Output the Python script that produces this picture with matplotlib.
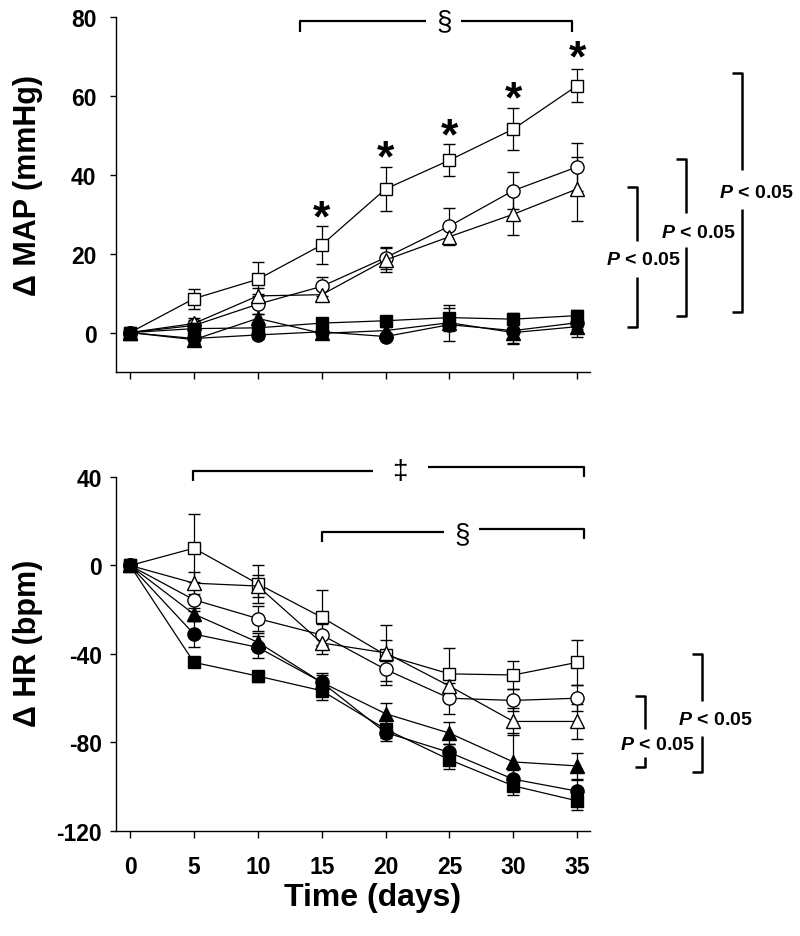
import matplotlib
matplotlib.use("Agg")
import matplotlib.pyplot as plt

plt.rcParams['font.family'] = ['Liberation Sans', 'DejaVu Sans']
plt.rcParams['font.weight'] = 'bold'
plt.rcParams['axes.unicode_minus'] = False
plt.rcParams['mathtext.fontset'] = 'custom'
plt.rcParams['mathtext.it'] = 'Liberation Sans:italic:bold'
plt.rcParams['mathtext.rm'] = 'Liberation Sans:bold'

days = [0, 5, 10, 15, 20, 25, 30, 35]

# change in mean arterial pressure (mmHg)
map_open_sq = [0, 8.6, 13.5, 22.2, 36.4, 43.7, 51.6, 62.6]
map_open_sq_err = [1.0, 2.5, 4.3, 4.7, 5.6, 4.0, 5.4, 4.2]
map_open_ci = [0, 1.8, 7.2, 11.7, 19.0, 27.0, 36.0, 42.0]
map_open_ci_err = [1.0, 1.5, 2.5, 2.4, 2.8, 4.5, 4.8, 6.0]
map_open_tr = [0, 2.3, 9.3, 9.6, 18.4, 24.3, 30.0, 36.4]
map_open_tr_err = [1.0, 1.5, 2.0, 1.6, 3.0, 2.0, 5.2, 8.0]
map_fill_sq = [0, 1.0, 1.2, 2.4, 3.0, 3.8, 3.4, 4.3]
map_fill_sq_err = [0.8, 1.5, 1.5, 1.2, 1.2, 3.3, 1.5, 1.5]
map_fill_ci = [0, -1.5, -0.6, 0.2, -1.0, 2.0, 0.5, 2.5]
map_fill_ci_err = [0.8, 1.2, 1.0, 1.0, 1.0, 4.2, 3.2, 1.5]
map_fill_tr = [0, -1.8, 3.6, -0.2, 0.5, 2.5, 0.0, 1.5]
map_fill_tr_err = [0.8, 1.5, 1.2, 1.0, 1.0, 1.5, 2.8, 2.5]

# change in heart rate (bpm)
hr_open_sq = [0, 7.8, -8.3, -23.4, -40.5, -49.0, -49.5, -43.8]
hr_open_sq_err = [1.0, 15.3, 8.7, 12.4, 13.5, 11.8, 6.2, 10.3]
hr_open_ci = [0, -15.5, -24.0, -31.4, -47.0, -60.0, -61.0, -60.0]
hr_open_ci_err = [1.0, 5.0, 5.5, 5.0, 5.0, 7.0, 5.0, 6.0]
hr_open_tr = [0, -8.0, -9.3, -35.0, -39.5, -54.5, -70.5, -70.5]
hr_open_tr_err = [1.0, 5.0, 5.0, 5.0, 6.0, 5.0, 6.0, 8.0]
hr_fill_sq = [0, -43.8, -50.0, -56.6, -74.0, -87.8, -99.6, -106.4]
hr_fill_sq_err = [1.0, 2.0, 2.5, 4.0, 4.0, 4.0, 4.0, 4.0]
hr_fill_ci = [0, -31.0, -37.0, -52.8, -75.5, -84.5, -96.6, -102.0]
hr_fill_ci_err = [1.0, 6.0, 5.0, 4.0, 4.0, 4.0, 4.0, 5.0]
hr_fill_tr = [0, -22.0, -34.7, -52.8, -67.0, -75.8, -88.8, -90.6]
hr_fill_tr_err = [1.0, 3.0, 4.0, 3.5, 5.0, 5.0, 13.0, 6.0]

star_days = [15, 20, 25, 30, 35]
star_y = [31.4, 46.6, 52.1, 61.4, 71.8]

p_text = r"$P$ < 0.05"


def draw_series(ax, y, err, marker, filled, ms):
    """
    One group: line, markers and error bars
    """
    face = "black" if filled else "white"
    ax.errorbar(days, y, yerr=err, fmt="-", marker=marker, color="black",
                mfc=face, mec="black", mew=1.0, ms=ms, lw=0.9,
                elinewidth=0.9, capsize=4.5, capthick=0.9, zorder=3 if filled else 2)


def bracket(ax, x, x_arm, y_top, y_bot, gap_top, gap_bot, tx, ty):
    """
    Right side significance bracket with a P value in a gap
    """
    kw = dict(color="black", lw=1.8, clip_on=False, solid_capstyle="butt")
    ax.plot([x_arm, x, x], [y_top, y_top, gap_top], **kw)
    ax.plot([x, x, x_arm], [gap_bot, y_bot, y_bot], **kw)
    ax.text(tx, ty, p_text, fontsize=14, fontweight="bold", ha="center", va="center")


def top_bracket(ax, x0, x1, y0, y1, drop, g0, g1, sym, sy):
    """
    Horizontal bracket above the data with a symbol in a gap
    """
    kw = dict(color="black", lw=1.6, clip_on=False, solid_capstyle="butt")
    ax.plot([x0, x0, g0], [y0 - drop, y0, y0], **kw)
    ax.plot([g1, x1, x1], [y1, y1, y1 - drop], **kw)
    ax.text((g0 + g1) / 2, sy, sym, fontsize=20, fontweight="normal",
            ha="center", va="center", clip_on=False)


def style_axes(ax, ypad):
    for side in ["top", "right"]:
        ax.spines[side].set_visible(False)
    ax.spines["left"].set_linewidth(1.0)
    ax.spines["bottom"].set_linewidth(1.0)
    ax.tick_params(direction="out", length=4, width=1.0, labelsize=16.5)
    ax.tick_params(axis="y", pad=ypad)
    ax.tick_params(axis="x", pad=12, length=5)
    ax.set_xlim(-1.1, 36)
    ax.set_xticks(days)


fig = plt.figure(figsize=(8, 9.37), dpi=100)
ax1 = fig.add_axes([0.145, 0.6019, 0.5925, 0.3789])
ax2 = fig.add_axes([0.145, 0.1121, 0.5925, 0.3778])

# top panel
draw_series(ax1, map_open_sq, map_open_sq_err, "s", False, 8.5)
draw_series(ax1, map_open_ci, map_open_ci_err, "o", False, 9.5)
draw_series(ax1, map_open_tr, map_open_tr_err, "^", False, 9.5)
draw_series(ax1, map_fill_sq, map_fill_sq_err, "s", True, 8.5)
draw_series(ax1, map_fill_ci, map_fill_ci_err, "o", True, 9.5)
draw_series(ax1, map_fill_tr, map_fill_tr_err, "^", True, 9.5)
style_axes(ax1, 10)
ax1.set_ylim(-10, 80)
ax1.set_yticks([0, 20, 40, 60, 80])
ax1.set_xticklabels([])
ax1.set_ylabel("\u0394 MAP (mmHg)", fontsize=22, fontweight="bold")
ax1.yaxis.set_label_coords(-0.154, 0.527)

for d, s in zip(star_days, star_y):
    ax1.annotate("*", (d, s), xytext=(0, -7), textcoords="offset points",
                 fontsize=32, fontweight="bold", ha="center", va="center")

top_bracket(ax1, 13.3, 34.6, 79.0, 79.0, 2.9, 23.2, 25.9, "\u00a7", 79.0)
bracket(ax1, 39.7, 38.9, 37.0, 1.3, 23.1, 14.2, 40.2, 18.5)
bracket(ax1, 43.5, 42.7, 44.1, 4.1, 30.4, 21.6, 44.5, 25.4)
bracket(ax1, 47.9, 47.1, 65.9, 5.3, 41.3, 31.2, 49.0, 35.5)

# bottom panel
draw_series(ax2, hr_open_sq, hr_open_sq_err, "s", False, 8.5)
draw_series(ax2, hr_open_ci, hr_open_ci_err, "o", False, 9.5)
draw_series(ax2, hr_open_tr, hr_open_tr_err, "^", False, 9.5)
draw_series(ax2, hr_fill_sq, hr_fill_sq_err, "s", True, 8.5)
draw_series(ax2, hr_fill_ci, hr_fill_ci_err, "o", True, 9.5)
draw_series(ax2, hr_fill_tr, hr_fill_tr_err, "^", True, 9.5)
style_axes(ax2, 6)
ax2.set_ylim(-120, 40)
ax2.set_yticks([-120, -80, -40, 0, 40])
ax2.set_ylabel("\u0394 HR (bpm)", fontsize=22, fontweight="bold")
ax2.yaxis.set_label_coords(-0.154, 0.534)
ax2.set_xlabel("Time (days)", fontsize=23, fontweight="bold")
ax2.xaxis.set_label_coords(0.542, -0.145)

top_bracket(ax2, 4.9, 35.5, 42.8, 44.3, 4.5, 19.0, 23.3, "\u2021", 42.8)
top_bracket(ax2, 15.0, 35.5, 15.0, 16.5, 4.5, 24.6, 27.3, "\u00a7", 14.2)
bracket(ax2, 40.3, 39.5, -59.0, -91.1, -73.9, -86.6, 41.3, -81.1)
bracket(ax2, 44.8, 44.0, -40.0, -93.3, -61.2, -77.1, 45.8, -69.4)

fig.savefig("out.png", dpi=100)
